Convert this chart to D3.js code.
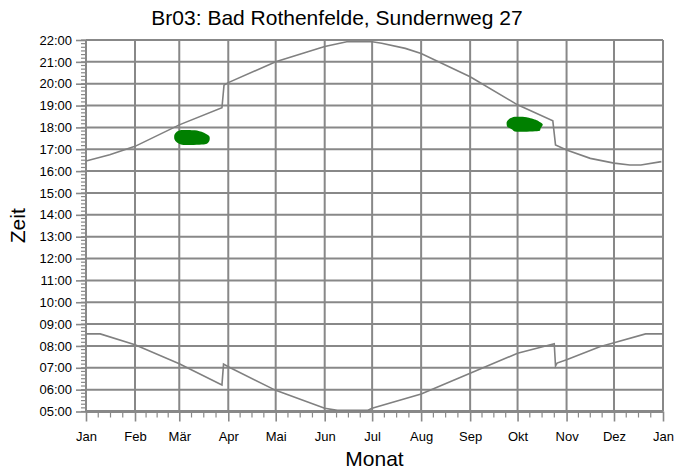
<!DOCTYPE html>
<html>
<head>
<meta charset="utf-8">
<script src="https://cdn.jsdelivr.net/npm/d3@7"></script>
<style>
  body { margin: 0; background: #fff; }
  text { font-family: "Liberation Sans", Arial, sans-serif; fill: #000; }
  .grid line { stroke: #888; stroke-width: 2; }
  .sun { fill: none; stroke: #808080; stroke-width: 1.6; }
  .glare { fill: #008000; stroke: none; }
</style>
</head>
<body>
<script>
//Global variables
const width = 674;
const height = 471;
const plotLeft = 86, plotRight = 663, plotTop = 40, plotBottom = 411.5;

//Tick labels
const months = ["Jan", "Feb", "Mär", "Apr", "Mai", "Jun", "Jul", "Aug", "Sep", "Okt", "Nov", "Dez", "Jan"];
const hours = d3.range(5, 23);

//Sunset (upper line), day of year and clock time
const sunsetDays  = [0, 15, 31, 59, 86, 87.3, 90, 120, 151, 165, 181, 187, 202, 212, 243, 273, 295.3, 297, 304, 319, 334, 344, 351, 364];
const sunsetTimes = ["16:28", "16:45", "17:08", "18:07", "18:54", "19:56", "20:03", "21:00", "21:42", "21:55", "21:55", "21:51", "21:37", "21:23", "20:19", "19:02", "18:18", "17:12", "16:58", "16:35", "16:22", "16:17", "16:17", "16:26"];

//Sunrise (lower line)
const sunriseDays  = [0, 9, 31, 59, 86, 87, 90, 120, 151, 159, 178, 181, 212, 243, 273, 296.2, 297, 298, 304, 325, 334, 354, 365];
const sunriseTimes = ["08:33", "08:33", "08:03", "07:11", "06:13", "07:10", "07:03", "05:58", "05:09", "05:03", "05:03", "05:09", "05:48", "06:45", "07:40", "08:06", "07:05", "07:13", "07:22", "07:58", "08:09", "08:33", "08:33"];

//Glare periods (green areas), outline as day / clock time
const glareMarchDays  = [55.9, 57.4, 60.5, 68.9, 74.2, 78.0, 78.0, 75.3, 61.5, 57.4, 55.9];
const glareMarchTimes = ["17:39", "17:48", "17:53", "17:52", "17:46", "17:36", "17:23", "17:14", "17:12", "17:19", "17:28"];
const glareOctDays  = [266.1, 267.7, 271.3, 278.7, 285.1, 288.9, 287.6, 286.1, 272.4, 269.3, 266.5];
const glareOctTimes = ["18:14", "18:23", "18:29", "18:28", "18:20", "18:09", "17:58", "17:50", "17:48", "17:55", "18:02"];

const t0 = Date.UTC(2021, 0, 1);
const toDate = day => new Date(t0 + day * 864e5);
const toHour = s => +s.slice(0, 2) + +s.slice(3) / 60;
const pairs = (days, times) => days.map((d, i) => ({ date: toDate(d), hour: toHour(times[i]) }));

//Scales
const xScale = d3.scaleUtc()
    .domain([toDate(0), toDate(365)])
    .range([plotLeft, plotRight]);

const yScale = d3.scaleLinear()
    .domain([5, 22])
    .range([plotBottom, plotTop]);

const monthDates = d3.range(13).map(m => new Date(Date.UTC(2021, m, 1)));

//SVG element
const svg = d3.select("body")
    .append("svg")
    .attr("width", width)
    .attr("height", height);

//Grid
const grid = svg.append("g").attr("class", "grid");
grid.selectAll(".h")
    .data(hours)
    .join("line")
    .attr("x1", plotLeft).attr("x2", plotRight)
    .attr("y1", d => yScale(d)).attr("y2", d => yScale(d));
grid.selectAll(".v")
    .data(monthDates)
    .join("line")
    .attr("x1", d => xScale(d)).attr("x2", d => xScale(d))
    .attr("y1", plotTop).attr("y2", plotBottom);

//Minor ticks
const minorY = d3.range(5, 22.01, 1 / 6);
svg.append("g").selectAll("line")
    .data(minorY)
    .join("line")
    .attr("x1", plotLeft - 5).attr("x2", plotLeft)
    .attr("y1", d => yScale(d)).attr("y2", d => yScale(d))
    .attr("stroke", "#888").attr("stroke-width", 1.2);

const minorX = [];
for (let m = 0; m < 12; m++) {
    const a = +monthDates[m], b = +monthDates[m + 1];
    for (let k = 1; k < 4; k++) minorX.push(new Date(a + (b - a) * k / 4));
}
svg.append("g").selectAll("line")
    .data(minorX)
    .join("line")
    .attr("x1", d => xScale(d)).attr("x2", d => xScale(d))
    .attr("y1", plotBottom).attr("y2", plotBottom + 6)
    .attr("stroke", "#888").attr("stroke-width", 1.2);

//Axes
const leftAxis = d3.axisLeft(yScale)
    .tickValues(hours)
    .tickSize(10)
    .tickPadding(4)
    .tickFormat(d => d3.format("02d")(d) + ":00");

const bottomAxis = d3.axisBottom(xScale)
    .tickValues(monthDates)
    .tickSize(10)
    .tickPadding(10)
    .tickFormat((d, i) => months[i]);

const gy = svg.append("g")
    .attr("transform", "translate(" + plotLeft + ",0)")
    .call(leftAxis);
const gx = svg.append("g")
    .attr("transform", "translate(0," + plotBottom + ")")
    .call(bottomAxis);

[gy, gx].forEach(g => {
    g.select(".domain").remove();
    g.selectAll(".tick line").attr("stroke", "#888").attr("stroke-width", 1.6);
    g.selectAll(".tick text").attr("font-size", 13).attr("fill", "#000")
        .attr("font-family", "Liberation Sans, Arial, sans-serif");
});
svg.append("line")
    .attr("x1", plotLeft).attr("x2", plotLeft).attr("y1", plotTop).attr("y2", plotBottom)
    .attr("stroke", "#888").attr("stroke-width", 2);
svg.append("line")
    .attr("x1", plotLeft).attr("x2", plotRight).attr("y1", plotBottom).attr("y2", plotBottom)
    .attr("stroke", "#888").attr("stroke-width", 3);

//Glare areas
const area = d3.line()
    .x(d => xScale(d.date))
    .y(d => yScale(d.hour))
    .curve(d3.curveCardinalClosed.tension(0.3));

svg.append("path")
    .datum(pairs(glareMarchDays, glareMarchTimes))
    .attr("class", "glare")
    .attr("d", area);
svg.append("path")
    .datum(pairs(glareOctDays, glareOctTimes))
    .attr("class", "glare")
    .attr("d", area);

//Sun lines
const line = d3.line()
    .x(d => xScale(d.date))
    .y(d => yScale(d.hour));

svg.append("path")
    .datum(pairs(sunsetDays, sunsetTimes))
    .attr("class", "sun")
    .attr("d", line);
svg.append("path")
    .datum(pairs(sunriseDays, sunriseTimes))
    .attr("class", "sun")
    .attr("d", line);

//Header
svg.append("text")
    .attr("x", width / 2)
    .attr("y", 25)
    .attr("text-anchor", "middle")
    .attr("font-size", 21)
    .text("Br03: Bad Rothenfelde, Sundernweg 27");

//Axis labels
svg.append("text")
    .attr("x", (plotLeft + plotRight) / 2)
    .attr("y", 466)
    .attr("text-anchor", "middle")
    .attr("font-size", 21)
    .text("Monat");

svg.append("text")
    .attr("transform", "translate(25," + (plotTop + plotBottom) / 2 + ") rotate(-90)")
    .attr("text-anchor", "middle")
    .attr("font-size", 21)
    .text("Zeit");
</script>
</body>
</html>
